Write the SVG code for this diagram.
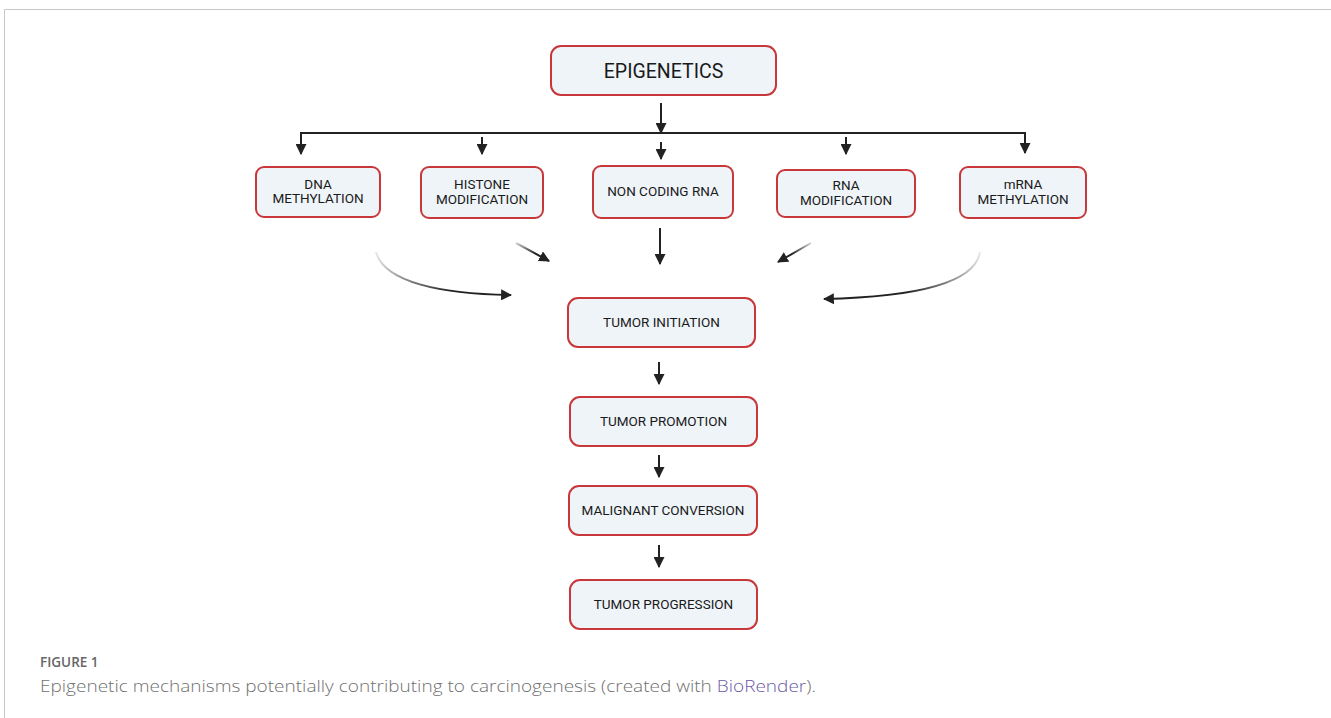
<svg xmlns="http://www.w3.org/2000/svg" width="1331" height="718" viewBox="0 0 1331 718">
<style>
.box{fill:#eff4f9;stroke:#c8383a;stroke-width:2}
.lbl{font-family:Roboto,"Liberation Sans",sans-serif;font-size:13.5px;fill:#1a1a1a;text-anchor:middle}
.ln{stroke:#222;stroke-width:2;fill:none}
</style>
<defs>
<marker id="ah" viewBox="0 0 10 10" refX="9" refY="5" markerWidth="5.5" markerHeight="5.5" markerUnits="strokeWidth" orient="auto">
<path d="M0,0 L10,5 L0,10 z" fill="#222"/>
</marker>
<linearGradient id="gl" gradientUnits="userSpaceOnUse" x1="376" y1="252" x2="450" y2="292">
<stop offset="0" stop-color="#222" stop-opacity="0.1"/><stop offset="1" stop-color="#222"/>
</linearGradient>
<linearGradient id="gr" gradientUnits="userSpaceOnUse" x1="980" y1="252" x2="906" y2="292">
<stop offset="0" stop-color="#222" stop-opacity="0.1"/><stop offset="1" stop-color="#222"/>
</linearGradient>
<linearGradient id="gh" gradientUnits="userSpaceOnUse" x1="516" y1="243" x2="535" y2="254">
<stop offset="0" stop-color="#222" stop-opacity="0.2"/><stop offset="1" stop-color="#222"/>
</linearGradient>
<linearGradient id="gm" gradientUnits="userSpaceOnUse" x1="811" y1="243" x2="792" y2="254">
<stop offset="0" stop-color="#222" stop-opacity="0.2"/><stop offset="1" stop-color="#222"/>
</linearGradient>
</defs>
<rect width="1331" height="718" fill="#fff"/>
<path d="M4.5,718 V9.5 H1331" fill="none" stroke="#c8c8c8" stroke-width="1"/>

<g id="connectors">
<line class="ln" x1="661" y1="103" x2="661" y2="133" marker-end="url(#ah)"/>
<polyline class="ln" points="301,137 301,133 1025,133 1025,137"/>
<line class="ln" x1="301" y1="134" x2="301" y2="154" marker-end="url(#ah)"/>
<line class="ln" x1="482" y1="137" x2="482" y2="154" marker-end="url(#ah)"/>
<line class="ln" x1="661" y1="142" x2="661" y2="159" marker-end="url(#ah)"/>
<line class="ln" x1="846" y1="137" x2="846" y2="154" marker-end="url(#ah)"/>
<line class="ln" x1="1025" y1="134" x2="1025" y2="153" marker-end="url(#ah)"/>
<line class="ln" x1="660" y1="228" x2="660" y2="264" marker-end="url(#ah)"/>
<line x1="516" y1="243" x2="549" y2="261" stroke="url(#gh)" stroke-width="2" marker-end="url(#ah)"/>
<line x1="811" y1="243" x2="778" y2="262" stroke="url(#gm)" stroke-width="2" marker-end="url(#ah)"/>
<path d="M376,252 C384,282 440,294 511,295" fill="none" stroke="url(#gl)" stroke-width="2" marker-end="url(#ah)"/>
<path d="M980,252 C975,284 912,297 824,299" fill="none" stroke="url(#gr)" stroke-width="2" marker-end="url(#ah)"/>
<line class="ln" x1="659" y1="362" x2="659" y2="384" marker-end="url(#ah)"/>
<line class="ln" x1="659" y1="455" x2="659" y2="477" marker-end="url(#ah)"/>
<line class="ln" x1="659" y1="545" x2="659" y2="567" marker-end="url(#ah)"/>
</g>

<g id="epigenetics"><rect class="box" x="551" y="46" width="225" height="49" rx="10"/>
<text class="lbl" x="663.5" y="78" style="font-size:19.5px">EPIGENETICS</text></g>

<g id="dna-methylation"><rect class="box" x="256" y="167" width="124" height="50" rx="8"/>
<text class="lbl" x="318" y="189">DNA</text><text class="lbl" x="318" y="203">METHYLATION</text></g>

<g id="histone-modification"><rect class="box" x="421" y="167" width="122" height="51" rx="8"/>
<text class="lbl" x="482" y="189">HISTONE</text><text class="lbl" x="482" y="204">MODIFICATION</text></g>

<g id="non-coding-rna"><rect class="box" x="593" y="166" width="140" height="52" rx="8"/>
<text class="lbl" x="663" y="196">NON CODING RNA</text></g>

<g id="rna-modification"><rect class="box" x="777" y="170" width="138" height="47" rx="8"/>
<text class="lbl" x="846" y="190">RNA</text><text class="lbl" x="846" y="205">MODIFICATION</text></g>

<g id="mrna-methylation"><rect class="box" x="960" y="167" width="126" height="51" rx="8"/>
<text class="lbl" x="1023" y="189">mRNA</text><text class="lbl" x="1023" y="204">METHYLATION</text></g>

<g id="tumor-initiation"><rect class="box" x="568" y="298" width="187" height="49" rx="10"/>
<text class="lbl" x="661.5" y="327">TUMOR INITIATION</text></g>

<g id="tumor-promotion"><rect class="box" x="570" y="397" width="187" height="49" rx="10"/>
<text class="lbl" x="663.5" y="426">TUMOR PROMOTION</text></g>

<g id="malignant-conversion"><rect class="box" x="569" y="486" width="188" height="49" rx="10"/>
<text class="lbl" x="663" y="515">MALIGNANT CONVERSION</text></g>

<g id="tumor-progression"><rect class="box" x="570" y="580" width="187" height="49" rx="10"/>
<text class="lbl" x="663.5" y="609">TUMOR PROGRESSION</text></g>

<g id="caption">
<text x="40" y="667" font-family="'Open Sans','Liberation Sans',sans-serif" font-size="13.5" font-weight="600" fill="#666">FIGURE 1</text>
<text x="40" y="692" font-family="'Open Sans','Liberation Sans',sans-serif" font-weight="300" font-size="17" fill="#707070" textLength="776" lengthAdjust="spacingAndGlyphs">Epigenetic mechanisms potentially contributing to carcinogenesis (created with <tspan fill="#6b5aa8">BioRender</tspan>).</text>
</g>
</svg>
